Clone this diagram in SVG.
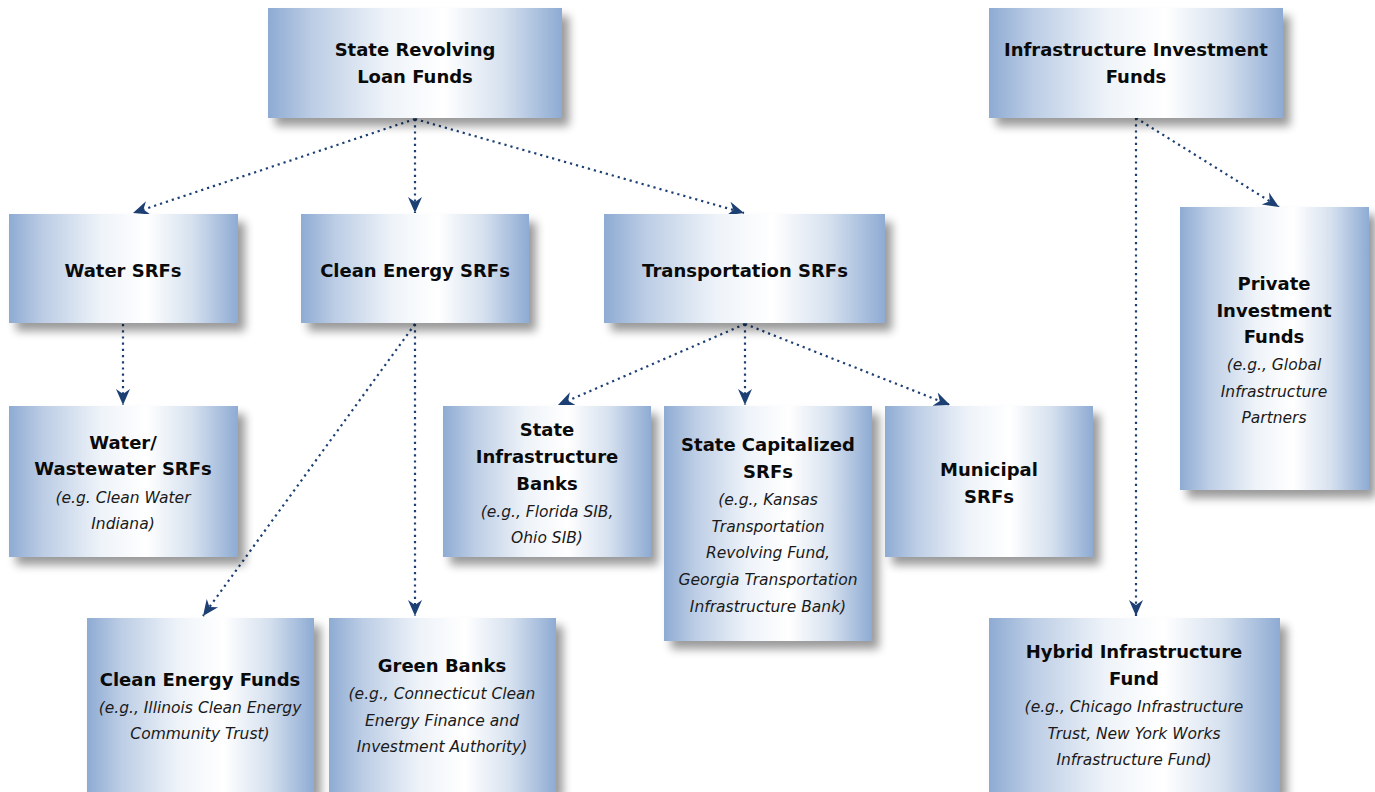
<svg xmlns="http://www.w3.org/2000/svg" width="1375" height="792" viewBox="0 0 1375 792">
<defs>
<linearGradient id="bg" x1="0" y1="0" x2="1" y2="0">
<stop offset="0" stop-color="#8eabd3"/>
<stop offset="0.15" stop-color="#bccde5"/>
<stop offset="0.4" stop-color="#eef3f9"/>
<stop offset="0.6" stop-color="#ffffff"/>
<stop offset="0.8" stop-color="#d6e1ef"/>
<stop offset="1" stop-color="#8eabd3"/>
</linearGradient>
<filter id="sh" x="-10%" y="-10%" width="135%" height="135%">
<feGaussianBlur in="SourceAlpha" stdDeviation="5"/>
<feOffset dx="7" dy="8" result="b"/>
<feComponentTransfer><feFuncA type="linear" slope="0.4"/></feComponentTransfer>
<feMerge><feMergeNode/><feMergeNode in="SourceGraphic"/></feMerge>
</filter>
<marker id="ah" markerUnits="userSpaceOnUse" markerWidth="18" markerHeight="16" refX="16" refY="8" orient="auto">
<path d="M0,1 L16,8 L0,15 L5,8 Z" fill="#1c3f74"/>
</marker>
</defs>
<style>
.box{fill:url(#bg);filter:url(#sh)}
.b{font-family:"DejaVu Sans",sans-serif;font-weight:bold;font-size:18px;fill:#0a0a0a;text-anchor:middle}
.i{font-family:"DejaVu Sans",sans-serif;font-style:italic;font-size:15.5px;fill:#1a1a1a;text-anchor:middle}
.c{fill:none;stroke:#1c3f74;stroke-width:2.2;stroke-dasharray:2.2 4;marker-end:url(#ah)}
</style>

<g id="connectors">
<line class="c" x1="415" y1="119" x2="133" y2="213"/>
<line class="c" x1="415" y1="119" x2="415" y2="213"/>
<line class="c" x1="415" y1="119" x2="744" y2="213"/>
<line class="c" x1="123" y1="324" x2="123" y2="405"/>
<line class="c" x1="415" y1="324" x2="203" y2="616"/>
<line class="c" x1="415" y1="324" x2="415" y2="616"/>
<line class="c" x1="745" y1="324" x2="558" y2="405"/>
<line class="c" x1="745" y1="324" x2="745" y2="405"/>
<line class="c" x1="745" y1="324" x2="950" y2="405"/>
<line class="c" x1="1136" y1="118" x2="1136" y2="616"/>
<line class="c" x1="1136" y1="118" x2="1279" y2="207"/>
</g>

<g id="n-srlf"><rect class="box" x="268" y="8" width="294" height="110"/>
<text class="b" x="415" y="56">State Revolving</text><text class="b" x="415" y="83">Loan Funds</text></g>

<g id="n-iif"><rect class="box" x="989" y="8" width="294" height="110"/>
<text class="b" x="1136" y="56">Infrastructure Investment</text><text class="b" x="1136" y="83">Funds</text></g>

<g id="n-water"><rect class="box" x="9" y="214" width="229" height="109"/>
<text class="b" x="123" y="277">Water SRFs</text></g>

<g id="n-clean"><rect class="box" x="301" y="214" width="228" height="109"/>
<text class="b" x="415" y="277">Clean Energy SRFs</text></g>

<g id="n-trans"><rect class="box" x="604" y="214" width="281" height="109"/>
<text class="b" x="745" y="277">Transportation SRFs</text></g>

<g id="n-private"><rect class="box" x="1180" y="207" width="189" height="283"/>
<text class="b" x="1274" y="290">Private</text><text class="b" x="1274" y="317">Investment</text><text class="b" x="1274" y="343">Funds</text>
<text class="i" x="1274" y="370">(e.g., Global</text><text class="i" x="1274" y="397">Infrastructure</text><text class="i" x="1274" y="423">Partners</text></g>

<g id="n-ww"><rect class="box" x="9" y="406" width="229" height="151"/>
<text class="b" x="123" y="449">Water/</text><text class="b" x="123" y="475">Wastewater SRFs</text>
<text class="i" x="123" y="503">(e.g. Clean Water</text><text class="i" x="123" y="529">Indiana)</text></g>

<g id="n-sib"><rect class="box" x="443" y="406" width="208" height="151"/>
<text class="b" x="547" y="436">State</text><text class="b" x="547" y="463">Infrastructure</text><text class="b" x="547" y="490">Banks</text>
<text class="i" x="547" y="517">(e.g., Florida SIB,</text><text class="i" x="547" y="543">Ohio SIB)</text></g>

<g id="n-scs"><rect class="box" x="664" y="406" width="208" height="235"/>
<text class="b" x="768" y="451">State Capitalized</text><text class="b" x="768" y="478">SRFs</text>
<text class="i" x="768" y="505">(e.g., Kansas</text><text class="i" x="768" y="532">Transportation</text><text class="i" x="768" y="558">Revolving Fund,</text><text class="i" x="768" y="585">Georgia Transportation</text><text class="i" x="768" y="612">Infrastructure Bank)</text></g>

<g id="n-muni"><rect class="box" x="885" y="406" width="208" height="151"/>
<text class="b" x="989" y="476">Municipal</text><text class="b" x="989" y="503">SRFs</text></g>

<g id="n-cef"><rect class="box" x="87" y="618" width="227" height="174"/>
<text class="b" x="200" y="686">Clean Energy Funds</text>
<text class="i" x="200" y="713">(e.g., Illinois Clean Energy</text><text class="i" x="200" y="739">Community Trust)</text></g>

<g id="n-green"><rect class="box" x="329" y="618" width="227" height="174"/>
<text class="b" x="442" y="672">Green Banks</text>
<text class="i" x="442" y="699">(e.g., Connecticut Clean</text><text class="i" x="442" y="726">Energy Finance and</text><text class="i" x="442" y="752">Investment Authority)</text></g>

<g id="n-hybrid"><rect class="box" x="989" y="618" width="291" height="174"/>
<text class="b" x="1134" y="658">Hybrid Infrastructure</text><text class="b" x="1134" y="685">Fund</text>
<text class="i" x="1134" y="712">(e.g., Chicago Infrastructure</text><text class="i" x="1134" y="739">Trust, New York Works</text><text class="i" x="1134" y="765">Infrastructure Fund)</text></g>
</svg>
